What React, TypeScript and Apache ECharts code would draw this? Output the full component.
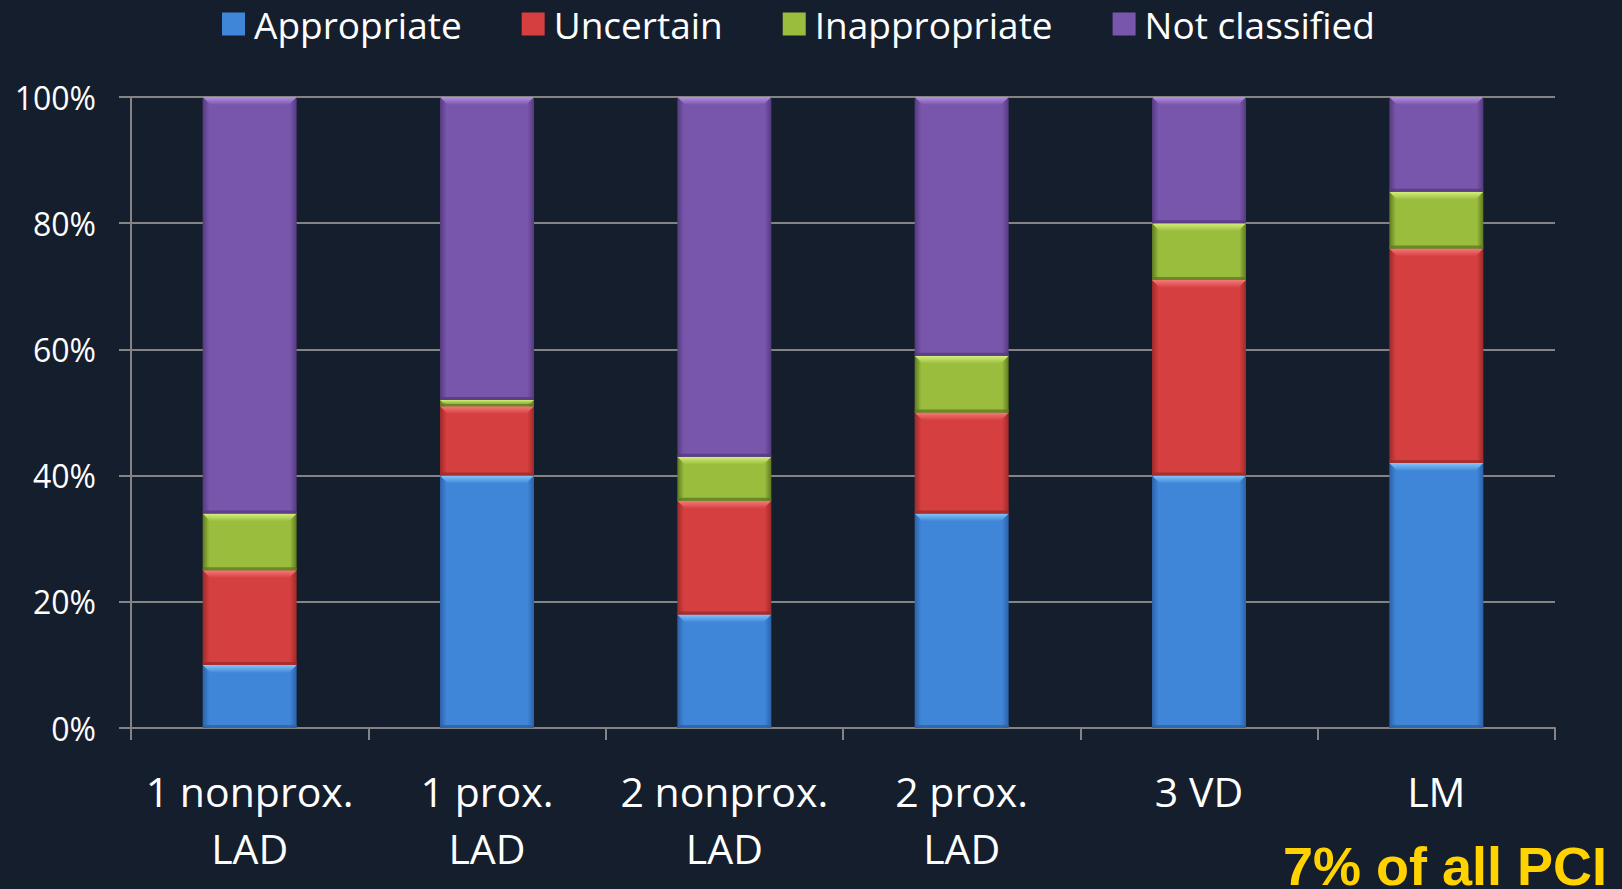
import React, { useEffect, useRef } from "react";
import * as echarts from "echarts";

const categories = ["1 nonprox.\nLAD", "1 prox.\nLAD", "2 nonprox.\nLAD", "2 prox.\nLAD", "3 VD", "LM"];
const appropriate = [10, 40, 18, 34, 40, 42];
const uncertain = [15, 11, 18, 16, 31, 34];
const inappropriate = [9, 1, 7, 9, 9, 9];
const notClassified = [66, 48, 57, 41, 20, 15];
const yTicks = [0, 20, 40, 60, 80, 100];

const seriesDefs = [
  { name: "Appropriate", data: appropriate, light: "#86c4fa", base: "#3f86d8", dark: "#2c62a8" },
  { name: "Uncertain", data: uncertain, light: "#f47a7a", base: "#d63f3f", dark: "#9e2a2a" },
  { name: "Inappropriate", data: inappropriate, light: "#d6f07c", base: "#9abd3e", dark: "#5f7a20" },
  { name: "Not classified", data: notClassified, light: "#b590e2", base: "#7856ab", dark: "#553a80" },
];

const BG = "#151e2c";
const GRID = "#848484";
const FONT = "'Open Sans', sans-serif";
const BAR_RATIO = 0.396;
const BEVEL = 8;

// Stack the layers: each item is [category index, lower bound, upper bound].
function stacked(layer: number): number[][] {
  return seriesDefs[layer].data.map((v, i) => {
    let base = 0;
    for (let k = 0; k < layer; k++) base += seriesDefs[k].data[i];
    return [i, base, base + v];
  });
}

function makeRenderItem(light: string, base: string, dark: string) {
  return (params: any, api: any) => {
    const idx = api.value(0);
    const lo = api.coord([idx, api.value(1)]);
    const hi = api.coord([idx, api.value(2)]);
    const w = api.size([1, 0])[0] * BAR_RATIO;
    const x = lo[0] - w / 2;
    const y = hi[1];
    const h = lo[1] - hi[1];
    if (h <= 0) return null;
    const b = Math.min(BEVEL, h / 2);
    const bb = Math.min(3, h / 3);
    return {
      type: "group",
      children: [
        {
          type: "rect",
          shape: { x, y, width: w, height: h },
          style: {
            fill: new echarts.graphic.LinearGradient(0, 0, 1, 0, [
              { offset: 0, color: dark },
              { offset: 0.07, color: base },
              { offset: 0.93, color: base },
              { offset: 1, color: dark },
            ]),
          },
        },
        {
          type: "polygon",
          shape: {
            points: [
              [x, y],
              [x + w, y],
              [x + w - b, y + b],
              [x + b, y + b],
            ],
          },
          style: {
            fill: new echarts.graphic.LinearGradient(0, 0, 0, 1, [
              { offset: 0, color: light },
              { offset: 1, color: base },
            ]),
          },
        },
        {
          type: "rect",
          shape: { x, y: y + h - bb, width: w, height: bb },
          style: { fill: dark, opacity: 0.8 },
        },
      ],
    };
  };
}

export default function App() {
  const ref = useRef<HTMLDivElement>(null);

  useEffect(() => {
    if (!ref.current) return;
    const chart = echarts.init(ref.current, undefined, { renderer: "svg" });
    chart.setOption({
      animation: false,
      backgroundColor: BG,
      legend: {
        top: 4,
        left: 222,
        padding: 0,
        itemWidth: 23,
        itemHeight: 23,
        itemGap: 60,
        icon: "rect",
        textStyle: {
          color: "#ffffff",
          fontSize: 37,
          lineHeight: 40,
          fontFamily: FONT,
          padding: [0, 0, 0, 4],
        },
        data: seriesDefs.map((s) => s.name),
      },
      grid: { left: 131, right: 67, top: 97, bottom: 161 },
      xAxis: {
        type: "category",
        data: categories,
        axisLine: { lineStyle: { color: GRID, width: 2 } },
        axisTick: { show: true, length: 12, lineStyle: { color: GRID, width: 2 } },
        axisLabel: {
          color: "#ffffff",
          fontSize: 41,
          fontFamily: FONT,
          lineHeight: 57,
          margin: 34,
          interval: 0,
        },
      },
      yAxis: {
        type: "value",
        min: 0,
        max: 100,
        interval: 20,
        axisLine: { show: true, lineStyle: { color: GRID, width: 2 } },
        axisTick: { show: true, length: 12, lineStyle: { color: GRID, width: 2 } },
        splitLine: { lineStyle: { color: GRID, width: 2 } },
        axisLabel: {
          color: "#ffffff",
          fontSize: 32,
          fontFamily: FONT,
          margin: 35,
          formatter: (v: number) => (yTicks.includes(v) ? `${v}%` : ""),
        },
      },
      series: seriesDefs.map((s, layer) => ({
        name: s.name,
        type: "custom",
        data: stacked(layer),
        encode: { x: 0, y: [1, 2] },
        itemStyle: { color: s.base },
        renderItem: makeRenderItem(s.light, s.base, s.dark),
      })),
      graphic: [
        {
          type: "text",
          right: 15,
          top: 839,
          style: {
            text: "7% of all PCI",
            fill: "#ffd200",
            lineHeight: 48,
            font: "bold 54px 'Liberation Sans', Arial, sans-serif",
          },
        },
      ],
    });
    return () => chart.dispose();
  }, []);

  return (
    <div
      ref={ref}
      style={{ position: "fixed", left: 0, top: 0, width: 1622, height: 889 }}
    />
  );
}
